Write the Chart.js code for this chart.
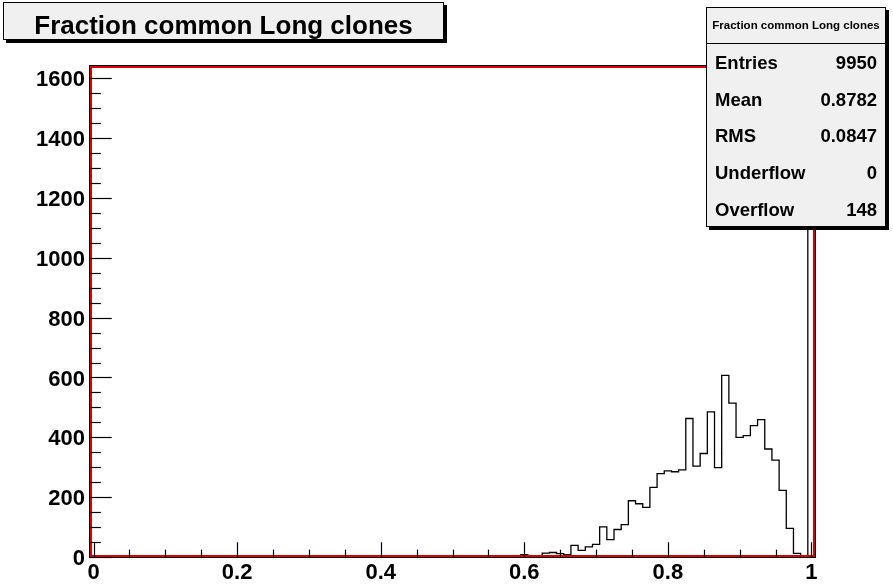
<!DOCTYPE html>
<html>
<head>
<meta charset="utf-8">
<script src="https://cdn.jsdelivr.net/npm/chart.js@4/dist/chart.umd.min.js"></script>
<style>
  html, body { margin: 0; padding: 0; background: #ffffff; }
  #wrap { width: 893px; height: 587px; position: relative; }
</style>
</head>
<body>
<div id="wrap"><canvas id="c" width="893" height="587"></canvas></div>
<script>
// Histogram "Fraction common Long clones": 101 bins of width 0.01, centred on 0.00 ... 1.00
const histTitle = 'Fraction common Long clones';
const xMin = -0.005;
const xMax = 1.005;

// Bin contents, ten bins per row (first row: bins centred on 0.00 ... 0.09)
const counts = [
  0, 0, 0, 0, 0, 0, 0, 0, 0, 0,
  0, 0, 0, 0, 0, 0, 0, 0, 0, 0,
  0, 0, 0, 0, 0, 0, 0, 0, 0, 0,
  0, 0, 0, 0, 0, 0, 0, 0, 0, 0,
  0, 0, 0, 0, 0, 0, 0, 0, 0, 0,
  2, 0, 0, 0, 0, 0, 0, 0, 2, 0,
  8, 3, 3, 13, 15, 11, 8, 39, 22, 34,
  42, 101, 58, 92, 108, 188, 178, 166, 233, 279,
  288, 285, 291, 463, 304, 346, 485, 299, 607, 514,
  400, 406, 439, 459, 361, 324, 223, 96, 12, 0,
  1563
];

const xTickValues = [0, 0.2, 0.4, 0.6, 0.8, 1];
const xTickLabels = ['0', '0.2', '0.4', '0.6', '0.8', '1'];
const yTickValues = [0, 200, 400, 600, 800, 1000, 1200, 1400, 1600];
const yTickLabels = ['0', '200', '400', '600', '800', '1000', '1200', '1400', '1600'];
const xMinorStep = 0.05;
const yMinorStep = 50;

const statLabels = ['Entries', 'Mean', 'RMS', 'Underflow', 'Overflow'];
const statValues = ['9950', '0.8782', '0.0847', '0', '148'];

// Step outline: one point on the low edge of every bin, plus the upper edge of the last bin
const binWidth = (xMax - xMin) / counts.length;
const outline = counts.map((c, i) => ({ x: xMin + i * binWidth, y: c }));
outline.push({ x: xMax, y: counts[counts.length - 1] });

const yMax = Math.max(...counts) * 1.05;
const FONT = "'Liberation Sans', Arial, Helvetica, sans-serif";

const rootDecor = {
  id: 'rootDecor',
  afterDatasetsDraw(chart) {
    const ctx = chart.ctx;
    const a = chart.chartArea;
    const xs = chart.scales.x, ys = chart.scales.y;
    ctx.save();
    // frame
    ctx.strokeStyle = '#000000';
    ctx.lineWidth = 1;
    ctx.strokeRect(a.left - 0.5, a.top - 0.5, a.right - a.left + 1, a.bottom - a.top + 1);
    ctx.strokeStyle = '#e00000';
    ctx.lineWidth = 2;
    ctx.strokeRect(a.left + 1, a.top + 1, a.right - a.left - 2, a.bottom - a.top - 2);

    // tick marks pointing into the frame
    ctx.strokeStyle = '#000000';
    ctx.lineWidth = 1.2;
    const h = a.bottom - a.top, w = a.right - a.left;
    for (let k = 0; k * xMinorStep <= 1 + 1e-9; k++) {
      const v = k * xMinorStep;
      const px = Math.round(xs.getPixelForValue(v)) + 0.5;
      const len = (k % 4 === 0) ? 0.03 * h : 0.015 * h;
      ctx.beginPath();
      ctx.moveTo(px, a.bottom);
      ctx.lineTo(px, a.bottom - len);
      ctx.stroke();
    }
    for (let k = 0; k * yMinorStep <= ys.max; k++) {
      const v = k * yMinorStep;
      const py = Math.round(ys.getPixelForValue(v)) + 0.5;
      const len = (k % 4 === 0) ? 0.03 * w : 0.015 * w;
      ctx.beginPath();
      ctx.moveTo(a.left, py);
      ctx.lineTo(a.left + len, py);
      ctx.stroke();
    }
    ctx.restore();
  },
  afterDraw(chart) {
    const ctx = chart.ctx;
    ctx.save();
    // boxes with a dark drop shadow
    const box = (x0, y0, x1, y1) => {
      ctx.fillStyle = '#000000';
      ctx.fillRect(x0 + 3, y0 + 3, x1 - x0, y1 - y0);
      ctx.fillStyle = '#f0f0f0';
      ctx.fillRect(x0, y0, x1 - x0, y1 - y0);
      ctx.strokeStyle = '#000000';
      ctx.lineWidth = 1;
      ctx.strokeRect(x0 + 0.5, y0 + 0.5, x1 - x0 - 1, y1 - y0 - 1);
    };
    box(3, 2, 444, 40);
    ctx.fillStyle = '#000000';
    ctx.font = `bold 26px ${FONT}`;
    ctx.textAlign = 'center';
    ctx.textBaseline = 'alphabetic';
    ctx.fillText(histTitle, 223.5, 33.5);

    // statistics box
    box(706, 7, 886, 227);
    ctx.beginPath();
    ctx.moveTo(706, 43.5);
    ctx.lineTo(886, 43.5);
    ctx.stroke();
    ctx.fillStyle = '#000000';
    ctx.font = `bold 11.5px ${FONT}`;
    ctx.textAlign = 'center';
    ctx.fillText(histTitle, 796, 29);
    ctx.font = `bold 18.5px ${FONT}`;
    const rowH = (227 - 43.5) / statLabels.length;
    statLabels.forEach((lab, i) => {
      const base = 43.5 + rowH * (i + 0.5) + 7;
      ctx.textAlign = 'left';
      ctx.fillText(lab, 715, base);
      ctx.textAlign = 'right';
      ctx.fillText(statValues[i], 877, base);
    });
    ctx.restore();
  }
};

new Chart(document.getElementById('c'), {
  type: 'line',
  data: {
    datasets: [{
      data: outline,
      stepped: 'before',
      borderColor: '#000000',
      borderWidth: 1.3,
      pointRadius: 0,
      fill: false,
      tension: 0
    }]
  },
  options: {
    responsive: false,
    animation: false,
    devicePixelRatio: 1,
    layout: { padding: { top: 66, right: 78, left: 0, bottom: 0 } },
    plugins: { legend: { display: false }, tooltip: { enabled: false }, title: { display: false } },
    scales: {
      x: {
        type: 'linear',
        min: xMin,
        max: xMax,
        grid: { display: false, drawTicks: false },
        border: { display: false },
        afterBuildTicks: s => { s.ticks = xTickValues.map(v => ({ value: v })); },
        afterFit: s => { s.height = 30; },
        ticks: {
          autoSkip: false,
          maxRotation: 0,
          padding: 3,
          color: '#000000',
          font: { family: FONT, weight: 'bold', size: 22 },
          callback: (v, i) => xTickLabels[i]
        }
      },
      y: {
        type: 'linear',
        min: 0,
        max: yMax,
        grid: { display: false, drawTicks: false },
        border: { display: false },
        afterBuildTicks: s => { s.ticks = yTickValues.map(v => ({ value: v })); },
        afterFit: s => { s.width = 90; },
        ticks: {
          autoSkip: false,
          padding: 5,
          labelOffset: 2,
          color: '#000000',
          font: { family: FONT, weight: 'bold', size: 22 },
          callback: (v, i) => yTickLabels[i]
        }
      }
    }
  },
  plugins: [rootDecor]
});
</script>
</body>
</html>
